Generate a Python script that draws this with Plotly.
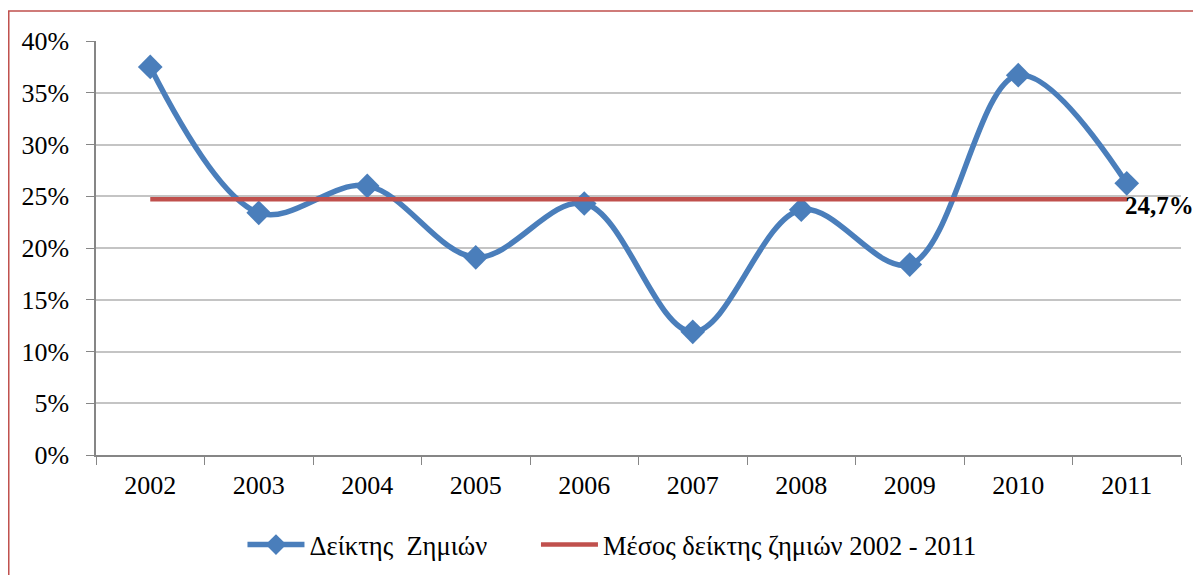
import plotly.graph_objects as go

years = ["2002", "2003", "2004", "2005", "2006", "2007", "2008", "2009", "2010", "2011"]
loss_ratio = [37.5, 23.4, 26.0, 19.1, 24.3, 11.9, 23.7, 18.4, 36.7, 26.25]
mean_ratio = [24.7] * len(years)
y_ticks = [0, 5, 10, 15, 20, 25, 30, 35, 40]
y_tick_labels = [f"{v}%" for v in y_ticks]
mean_label = "24,7%"
series_names = ["Δείκτης  Ζημιών", "Μέσος δείκτης ζημιών 2002 - 2011"]

FONT = "Liberation Serif, Times New Roman, serif"

fig = go.Figure()
fig.add_trace(go.Scatter(
    x=years, y=loss_ratio, name=series_names[0], mode="lines+markers",
    line=dict(color="#4a7ebb", width=5.5, shape="spline", smoothing=1.0),
    marker=dict(symbol="diamond", size=19, color="#4a7ebb"),
    legend="legend",
))
fig.add_trace(go.Scatter(
    x=years, y=mean_ratio, name=series_names[1], mode="lines",
    line=dict(color="#c0504d", width=4.5),
    legend="legend2",
))

# category index of the last year (category axes take indices for annotations)
fig.add_annotation(
    x=len(years) - 1, y=mean_ratio[-1], text=f"<b>{mean_label}</b>", showarrow=False,
    xref="x", yref="y",
    xanchor="left", yanchor="middle", xshift=-4, yshift=-6,
    font=dict(family=FONT, size=25, color="black"),
)

fig.add_shape(type="rect", xref="paper", yref="paper",
              x0=-0.0804, x1=1.2, y0=-0.6, y1=1.0725,
              line=dict(color="#c0504d", width=1.5), layer="below")

legend_common = dict(orientation="h", yanchor="middle", y=-0.217, xanchor="left",
                     font=dict(family=FONT, size=26.5), itemwidth=57,
                     bgcolor="rgba(0,0,0,0)")

fig.update_layout(
    width=1201, height=575,
    margin=dict(l=88, r=28, t=33, b=128),
    paper_bgcolor="white", plot_bgcolor="white",
    font=dict(family=FONT, size=26, color="black"),
    showlegend=True,
    legend=dict(x=0.135, **legend_common),
    legend2=dict(x=0.4055, **legend_common),
    xaxis=dict(type="category", tickson="boundaries", ticks="outside", ticklen=8,
               tickcolor="#868686", showline=True, linecolor="#868686", linewidth=1.5,
               showgrid=False, range=[-0.5, 9.5], ticklabelstandoff=6,
               tickfont=dict(family=FONT, size=26)),
    yaxis=dict(range=[0, 40], tickvals=y_ticks, ticktext=y_tick_labels,
               ticks="outside", ticklen=8, tickcolor="#868686",
               showline=True, linecolor="#868686", linewidth=1.5,
               showgrid=True, gridcolor="#c4c4c4", gridwidth=1.5,
               zeroline=False, ticklabelstandoff=12,
               tickfont=dict(family=FONT, size=26)),
)

fig.write_html("out.html")
